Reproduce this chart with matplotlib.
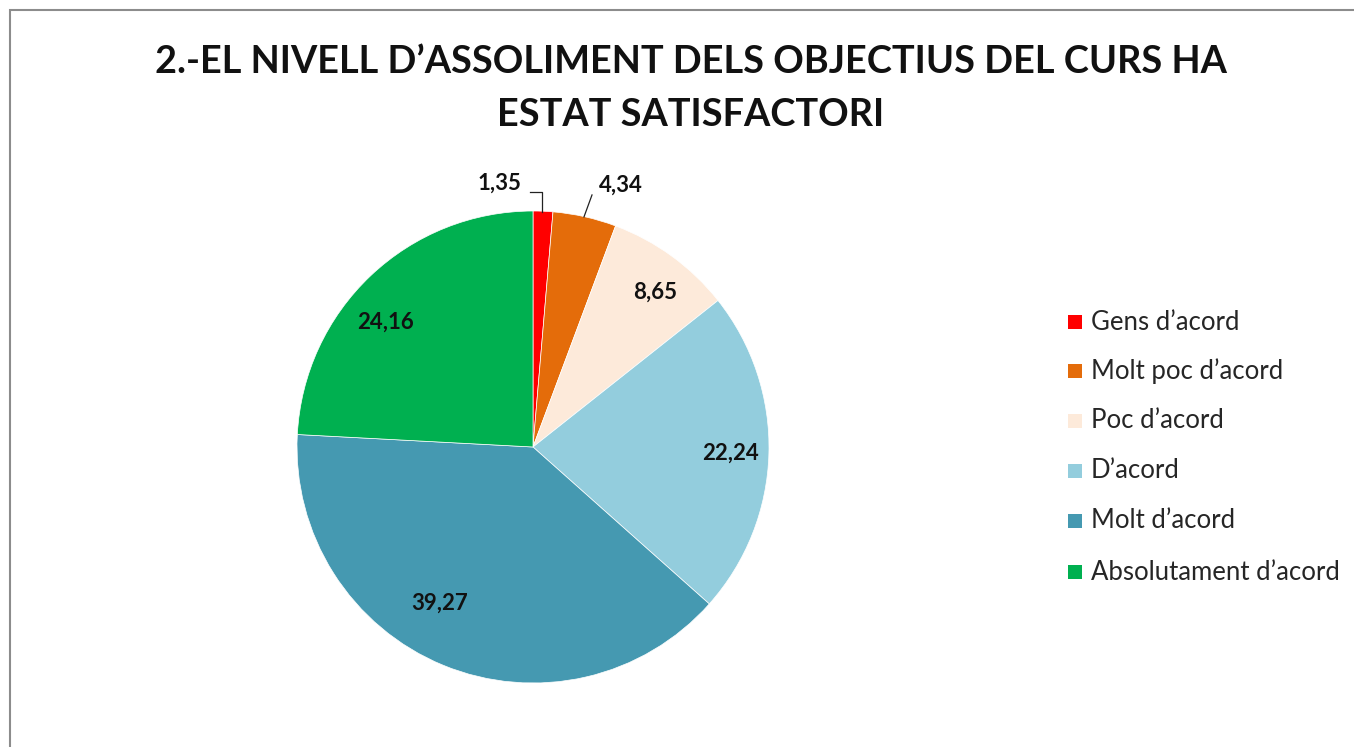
import matplotlib
matplotlib.use("Agg")
import matplotlib.pyplot as plt
from matplotlib.patches import Rectangle

categories = ["Gens d\u2019acord", "Molt poc d\u2019acord", "Poc d\u2019acord",
              "D\u2019acord", "Molt d\u2019acord", "Absolutament d\u2019acord"]
values = [1.35, 4.34, 8.65, 22.24, 39.27, 24.16]
value_labels = ["1,35", "4,34", "8,65", "22,24", "39,27", "24,16"]
colors = ["#FF0000", "#E46C0A", "#FDEADA", "#93CDDD", "#4599B1", "#00B050"]

title_lines = ["2.-EL NIVELL D\u2019ASSOLIMENT DELS OBJECTIUS DEL CURS HA",
               "ESTAT SATISFACTORI"]

plt.rcParams['font.family'] = ['Lato', 'DejaVu Sans']

W, H = 1354, 747
fig = plt.figure(figsize=(W / 100, H / 100), dpi=100)

# chart border (top-left visible)
fig.patches.append(Rectangle((10 / W, -0.05), 1.2, 1 - 10 / H + 0.05,
                             transform=fig.transFigure, fill=False,
                             edgecolor="#8c8c8c", linewidth=1.5))

for yy, line in zip([62, 115], title_lines):
    fig.text(691 / W, 1 - yy / H, line, ha="center", va="center",
             fontsize=27.3, fontweight="bold", color="#111111")

cx, cy, r = 533, 447, 236
ax = fig.add_axes([(cx - r) / W, (H - cy - r) / H, 2 * r / W, 2 * r / H])
wedges, _ = ax.pie(values, colors=colors, startangle=90, counterclock=False,
                   radius=1.0, wedgeprops=dict(linewidth=0.5, edgecolor="white"))
ax.set_xlim(-1, 1)
ax.set_ylim(-1, 1)
ax.set_aspect("auto")
ax.axis("off")

# label positions (data coords)
label_pos = [(-0.14, 1.118), (0.374, 1.11), (0.517, 0.657), (0.835, -0.025),
             (-0.394, -0.661), (-0.627, 0.53)]
for (x, y), t in zip(label_pos, value_labels):
    ax.text(x, y, t, ha="center", va="center", fontsize=16,
            fontweight="bold", color="#111111", clip_on=False)

# leader lines
ax.plot([-0.013, 0.038, 0.038], [1.08, 1.08, 0.996], color="#222222",
        lw=0.9, clip_on=False)
ax.plot([0.25, 0.216], [1.068, 0.975], color="#222222", lw=0.9, clip_on=False)

# legend
leg_y = [322, 371, 421, 471, 521, 572]
for yy, c, name in zip(leg_y, colors, categories):
    fig.patches.append(Rectangle((1068 / W, 1 - (yy + 7) / H), 14 / W, 14 / H,
                                 transform=fig.transFigure, facecolor=c,
                                 edgecolor="none"))
    fig.text(1091 / W, 1 - yy / H, name, ha="left", va="center",
             fontsize=18.5, color="#262626")

fig.savefig("out.png", dpi=100)
